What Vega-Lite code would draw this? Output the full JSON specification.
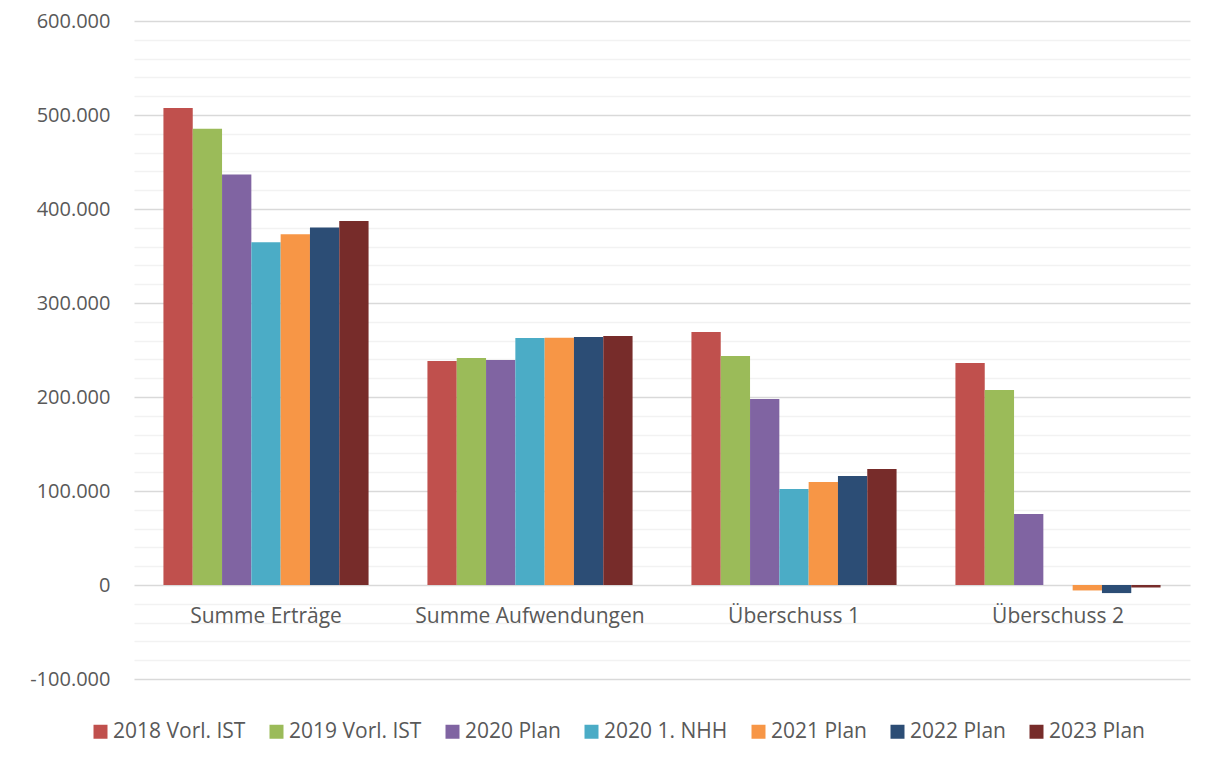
{
  "$schema": "https://vega.github.io/schema/vega-lite/v6.json",
  "width": 1056,
  "height": 658,
  "autosize": {"type": "none"},
  "padding": {"left": 134, "top": 21, "right": 24, "bottom": 86},
  "background": "#ffffff",
  "config": {
    "locale": {"number": {"decimal": ",", "thousands": ".", "grouping": [3], "currency": ["", " €"], "minus": "-"}},
    "view": {"stroke": null},
    "font": "Open Sans",
    "axis": {"labelFont": "Open Sans", "labelColor": "#595959", "labelFontSize": 20, "titleFont": "Open Sans"},
    "legend": {"labelFont": "Open Sans", "labelColor": "#595959", "labelFontSize": 21}
  },
  "data": {
    "values": [
      {"cat": "Summe Erträge", "series": "2018 Vorl. IST", "value": 507400},
      {"cat": "Summe Erträge", "series": "2019 Vorl. IST", "value": 485500},
      {"cat": "Summe Erträge", "series": "2020 Plan", "value": 436800},
      {"cat": "Summe Erträge", "series": "2020 1. NHH", "value": 364500},
      {"cat": "Summe Erträge", "series": "2021 Plan", "value": 373100},
      {"cat": "Summe Erträge", "series": "2022 Plan", "value": 380200},
      {"cat": "Summe Erträge", "series": "2023 Plan", "value": 387200},
      {"cat": "Summe Aufwendungen", "series": "2018 Vorl. IST", "value": 238300},
      {"cat": "Summe Aufwendungen", "series": "2019 Vorl. IST", "value": 241500},
      {"cat": "Summe Aufwendungen", "series": "2020 Plan", "value": 239400},
      {"cat": "Summe Aufwendungen", "series": "2020 1. NHH", "value": 262800},
      {"cat": "Summe Aufwendungen", "series": "2021 Plan", "value": 263000},
      {"cat": "Summe Aufwendungen", "series": "2022 Plan", "value": 263800},
      {"cat": "Summe Aufwendungen", "series": "2023 Plan", "value": 264900},
      {"cat": "Überschuss 1", "series": "2018 Vorl. IST", "value": 269100},
      {"cat": "Überschuss 1", "series": "2019 Vorl. IST", "value": 243600},
      {"cat": "Überschuss 1", "series": "2020 Plan", "value": 197900},
      {"cat": "Überschuss 1", "series": "2020 1. NHH", "value": 102100},
      {"cat": "Überschuss 1", "series": "2021 Plan", "value": 109600},
      {"cat": "Überschuss 1", "series": "2022 Plan", "value": 116000},
      {"cat": "Überschuss 1", "series": "2023 Plan", "value": 123400},
      {"cat": "Überschuss 2", "series": "2018 Vorl. IST", "value": 236200},
      {"cat": "Überschuss 2", "series": "2019 Vorl. IST", "value": 207400},
      {"cat": "Überschuss 2", "series": "2020 Plan", "value": 75500},
      {"cat": "Überschuss 2", "series": "2020 1. NHH", "value": 0},
      {"cat": "Überschuss 2", "series": "2021 Plan", "value": -5800},
      {"cat": "Überschuss 2", "series": "2022 Plan", "value": -8600},
      {"cat": "Überschuss 2", "series": "2023 Plan", "value": -2600}
    ]
  },
  "mark": {"type": "bar"},
  "encoding": {
    "x": {
      "field": "cat",
      "type": "nominal",
      "sort": ["Summe Erträge", "Summe Aufwendungen", "Überschuss 1", "Überschuss 2"],
      "scale": {"paddingInner": 0.223, "paddingOuter": 0.1115},
      "axis": {"title": null, "labelAngle": 0, "domain": false, "ticks": false, "offset": -94, "labelPadding": 20, "labelFontSize": 21, "labelLimit": 0}
    },
    "xOffset": {
      "field": "series",
      "type": "nominal",
      "sort": ["2018 Vorl. IST", "2019 Vorl. IST", "2020 Plan", "2020 1. NHH", "2021 Plan", "2022 Plan", "2023 Plan"],
      "scale": {"paddingInner": 0, "paddingOuter": 0}
    },
    "y": {
      "field": "value",
      "type": "quantitative",
      "scale": {"domain": [-100000, 600000], "nice": false, "zero": false},
      "axis": {
        "title": null,
        "domain": false,
        "ticks": false,
        "labelPadding": 24,
        "format": ",d",
        "values": [-100000, -80000, -60000, -40000, -20000, 0, 20000, 40000, 60000, 80000, 100000, 120000, 140000, 160000, 180000, 200000, 220000, 240000, 260000, 280000, 300000, 320000, 340000, 360000, 380000, 400000, 420000, 440000, 460000, 480000, 500000, 520000, 540000, 560000, 580000, 600000],
        "labelExpr": "datum.value % 100000 === 0 ? datum.label : ''",
        "gridColor": {"condition": {"test": "datum.value % 100000 === 0", "value": "#d9d9d9"}, "value": "#f2f2f2"},
        "gridWidth": 1.5
      }
    },
    "color": {
      "field": "series",
      "type": "nominal",
      "scale": {
        "domain": ["2018 Vorl. IST", "2019 Vorl. IST", "2020 Plan", "2020 1. NHH", "2021 Plan", "2022 Plan", "2023 Plan"],
        "range": ["#C0504D", "#9BBB59", "#8064A2", "#4BACC6", "#F79646", "#2C4D75", "#772C2A"]
      },
      "legend": {
        "title": null,
        "orient": "none",
        "legendX": -44,
        "legendY": 700,
        "padding": 0,
        "direction": "horizontal",
        "symbolType": "square",
        "symbolSize": 196,
        "symbolStrokeWidth": 0,
        "labelOffset": 2,
        "columnPadding": 20,
        "labelLimit": 0
      }
    }
  }
}
